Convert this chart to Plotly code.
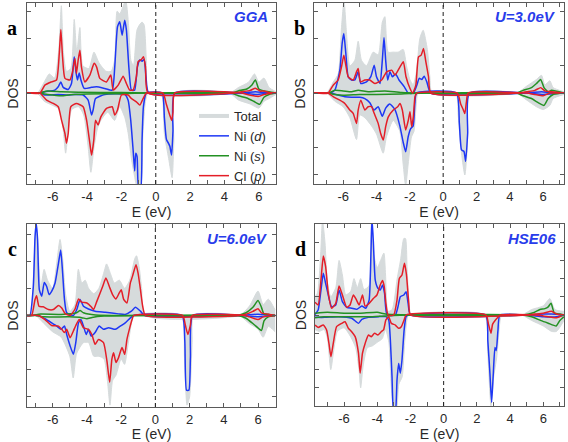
import plotly.graph_objects as go

# ---------------- data: (E, DOS) pairs ----------------
# Panel a (GGA)
A_TOTAL_UP = [(-7.5,0),(-6.9,0),(-6.5,0.4),(-6.2,0.7),(-5.9,0.55),(-5.65,1.6),(-5.5,3.2),(-5.38,1.5),(-5.2,0.8),(-4.95,0.9),(-4.75,2.7),(-4.6,1.5),(-4.42,2.4),(-4.25,1.0),(-3.9,0.9),(-3.6,1.5),(-3.3,1.1),(-2.9,0.8),(-2.6,0.8),(-2.4,1.2),(-2.25,3.0),(-2.1,2.9),(-1.95,3.1),(-1.75,3.4),(-1.6,2.6),(-1.45,1.2),(-1.3,1.0),(-1.1,2.3),(-0.95,2.5),(-0.8,2.6),(-0.68,2.5),(-0.55,1.2),(-0.4,0),(4.3,0),(4.8,0.2),(5.4,0.4),(5.75,0.7),(6.0,0.4),(6.3,0.55),(6.6,0.2),(7,0.05)]
A_TOTAL_DN = [(-7.5,0),(-6.9,0),(-6.5,-0.3),(-6.0,-0.45),(-5.6,-0.6),(-5.4,-1.3),(-5.25,-2.2),(-5.1,-1.4),(-4.9,-0.6),(-4.5,-0.5),(-4.2,-0.8),(-3.95,-1.9),(-3.78,-2.9),(-3.6,-2.0),(-3.4,-1.3),(-3.2,-1.0),(-2.8,-0.7),(-2.4,-1.0),(-2.1,-0.5),(-1.8,-0.9),(-1.6,-1.5),(-1.42,-2.4),(-1.25,-3.0),(-1.1,-3.4),(-0.9,-3.4),(-0.75,-1.5),(-0.6,-0.3),(-0.45,0),(0.3,0),(0.5,-1.5),(0.75,-2.4),(0.95,-3.1),(1.05,-1.8),(1.15,0),(4.3,0),(4.8,-0.25),(5.5,-0.4),(6.0,-0.55),(6.3,-0.3),(6.6,-0.2),(7,-0.05)]
A_D_UP = [(-7.5,0),(-6.75,0),(-6.46,0.05),(-5.88,0.11),(-5.68,0.23),(-5.53,0.41),(-5.39,0.21),(-5.1,0.13),(-4.91,0.35),(-4.75,1.33),(-4.65,0.78),(-4.56,0.48),(-4.46,0.74),(-4.36,0.48),(-4.17,0.17),(-3.74,0.21),(-3.45,0.23),(-2.97,0.17),(-2.54,0.11),(-2.39,0.96),(-2.23,2.43),(-2.1,2.61),(-1.96,2.12),(-1.81,2.67),(-1.71,2.3),(-1.57,0.96),(-1.42,0.11),(-1.23,0.11),(-1.07,0.96),(-0.93,1.21),(-0.8,1.17),(-0.68,1.23),(-0.57,0.6),(-0.41,0),(5.0,0),(5.8,0.05),(6.3,0.02),(7,0)]
A_D_DN = [(-7.5,0),(-6.75,0),(-6.46,-0.07),(-5.68,-0.05),(-5.1,-0.07),(-4.71,-0.05),(-4.23,-0.07),(-3.94,-0.26),(-3.74,-0.8),(-3.65,-0.62),(-3.51,-0.2),(-2.97,-0.05),(-1.81,-0.05),(-1.61,-0.26),(-1.46,-0.99),(-1.32,-2.09),(-1.23,-2.85),(-1.17,-2.2),(-1.09,-2.33),(-1.0,-3.5),(-0.88,-3.5),(-0.8,-1.72),(-0.72,-0.5),(-0.55,0),(0.37,0),(0.5,-0.9),(0.62,-1.7),(0.75,-1.85),(0.82,-1.95),(0.92,-2.27),(1.0,-1.4),(1.1,0),(5.0,0),(5.9,-0.05),(6.5,0),(7,0)]
A_S_UP = [(-7.5,0),(-6.8,0),(-6.3,0.08),(-5.5,0.05),(-4.5,0.03),(-2.0,0.02),(-0.5,0),(4.4,0),(4.8,0.08),(5.3,0.15),(5.6,0.3),(5.8,0.48),(6.0,0.15),(6.3,0.08),(6.6,0.05),(7,0)]
A_S_DN = [(-7.5,0),(-6.8,0),(-6.3,-0.05),(-5.5,-0.1),(-5.0,-0.06),(-4.0,-0.03),(-2.0,-0.02),(-0.5,0),(4.4,0),(4.8,-0.1),(5.3,-0.18),(5.7,-0.3),(6.05,-0.41),(6.3,-0.15),(6.6,-0.05),(7,0)]
A_P_UP = [(-7.5,0),(-6.75,0),(-6.46,0.29),(-6.07,0.41),(-5.78,0.48),(-5.62,1.45),(-5.53,2.33),(-5.43,1.33),(-5.29,0.54),(-5.0,0.48),(-4.85,0.78),(-4.71,1.27),(-4.62,0.72),(-4.52,1.21),(-4.42,1.57),(-4.33,0.96),(-4.13,0.41),(-3.84,0.66),(-3.59,1.09),(-3.45,0.96),(-3.26,0.54),(-2.87,0.41),(-2.62,0.66),(-2.48,0.11),(-2.19,0.29),(-1.9,0.62),(-1.71,0.35),(-1.52,0.11),(-1.32,0.11),(-1.13,0.6),(-1.03,1.15),(-0.84,1.23),(-0.72,1.33),(-0.6,0.96),(-0.45,0),(4.5,0),(5.0,0.05),(5.5,0.1),(5.8,0.18),(6.1,0.07),(6.3,0.08),(6.6,0.02),(7,0)]
A_P_DN = [(-7.5,0),(-6.75,0),(-6.36,-0.26),(-5.97,-0.38),(-5.68,-0.5),(-5.49,-0.99),(-5.29,-1.48),(-5.2,-1.84),(-5.1,-1.48),(-4.95,-0.5),(-4.62,-0.38),(-4.23,-0.5),(-4.03,-0.99),(-3.84,-1.84),(-3.74,-2.27),(-3.61,-1.72),(-3.51,-0.99),(-3.36,-1.17),(-3.2,-0.87),(-2.87,-0.56),(-2.54,-0.5),(-2.39,-0.8),(-2.23,-0.62),(-2.0,-0.07),(-1.61,-0.07),(-1.42,-0.2),(-1.13,-0.32),(-0.93,-0.44),(-0.74,-0.2),(-0.55,0),(0.42,0),(0.61,-0.4),(0.81,-0.8),(0.93,-1.0),(1.0,-0.7),(1.1,0),(5.0,0),(5.5,-0.08),(6.0,-0.12),(6.3,-0.05),(7,0)]

# Panel b (U = 3.0 eV)
B_TOTAL_UP = [(-7.75,0),(-7.0,0),(-6.6,0.4),(-6.3,0.7),(-6.1,2.4),(-5.95,3.4),(-5.8,2.2),(-5.6,1.0),(-5.3,1.2),(-5.1,1.9),(-4.9,1.2),(-4.6,1.0),(-4.2,1.5),(-3.9,1.4),(-3.65,2.6),(-3.5,2.8),(-3.3,1.5),(-3.0,1.5),(-2.7,1.5),(-2.4,1.6),(-2.2,1.0),(-2.0,0.5),(-1.8,0.3),(-1.6,0.8),(-1.4,2.0),(-1.2,2.3),(-0.95,1.6),(-0.8,0.6),(-0.65,0),(4.4,0),(5.0,0.25),(5.6,0.5),(5.9,0.65),(6.1,0.3),(6.4,0.45),(6.6,0.2),(7.25,0.05)]
B_TOTAL_DN = [(-7.75,0),(-7.0,0),(-6.5,-0.3),(-6.0,-0.5),(-5.6,-0.9),(-5.2,-1.7),(-5.0,-0.8),(-4.7,-0.9),(-4.3,-1.2),(-4.0,-1.5),(-3.6,-2.2),(-3.4,-1.6),(-3.0,-1.0),(-2.6,-1.4),(-2.4,-2.6),(-2.25,-3.4),(-2.1,-2.6),(-1.9,-1.6),(-1.75,-1.4),(-1.6,-0.3),(-1.5,0),(0.75,0),(0.9,-0.8),(1.1,-2.2),(1.3,-3.0),(1.45,-2.0),(1.6,0),(4.4,0),(5.0,-0.25),(5.6,-0.5),(6.0,-0.6),(6.4,-0.45),(6.6,-0.2),(7.25,-0.05)]
B_D_UP = [(-7.75,0),(-6.81,0),(-6.5,0.11),(-6.2,0.84),(-6.06,1.82),(-5.96,2.18),(-5.84,1.45),(-5.7,0.6),(-5.5,0.48),(-5.3,0.48),(-5.1,0.78),(-4.94,0.35),(-4.6,0.41),(-4.34,0.6),(-4.14,1.02),(-4.0,0.6),(-3.79,0.35),(-3.65,1.21),(-3.55,2.04),(-3.45,1.21),(-3.33,0.48),(-3.19,0.78),(-3.05,0.6),(-2.85,0.7),(-2.65,0.48),(-2.33,0.23),(-2.09,0),(-1.79,0),(-1.58,0.29),(-1.44,0.54),(-1.28,0.5),(-1.14,0.62),(-0.98,0.41),(-0.74,0),(5.0,0),(5.9,0.05),(6.4,0.02),(7.25,0)]
B_D_DN = [(-7.75,0),(-6.8,0),(-6.3,-0.07),(-5.9,-0.13),(-5.5,-0.15),(-5.0,-0.15),(-4.7,-0.2),(-4.4,-0.35),(-4.15,-0.62),(-3.9,-0.5),(-3.65,-0.85),(-3.45,-0.55),(-3.2,-0.4),(-2.9,-0.6),(-2.6,-1.2),(-2.4,-1.8),(-2.25,-2.15),(-2.1,-1.6),(-1.95,-1.3),(-1.8,-1.2),(-1.7,-0.4),(-1.6,0),(0.8,0),(0.97,-1.1),(1.1,-2.08),(1.25,-2.14),(1.35,-2.5),(1.47,-1.47),(1.57,0),(5.0,0),(6.0,-0.05),(7.25,0)]
B_S_UP = [(-7.75,0),(-6.9,0),(-6.5,0.1),(-6.0,0.08),(-5.5,0.05),(-5.1,0.1),(-4.5,0.05),(-3.5,0.08),(-2.5,0.02),(-1.0,0),(4.4,0),(4.8,0.1),(5.3,0.2),(5.6,0.35),(5.85,0.5),(6.05,0.2),(6.3,0.05),(6.5,0.1),(7.25,0)]
B_S_DN = [(-7.75,0),(-6.9,0),(-6.5,-0.05),(-6.0,-0.08),(-5.0,-0.05),(-4.0,-0.05),(-2.5,-0.03),(-1.0,0),(4.4,0),(4.8,-0.1),(5.3,-0.2),(5.7,-0.35),(6.05,-0.45),(6.3,-0.2),(6.6,-0.05),(7.25,0)]
B_P_UP = [(-7.75,0),(-6.91,0),(-6.6,0.29),(-6.3,0.48),(-6.1,0.96),(-5.96,1.39),(-5.84,1.02),(-5.7,0.6),(-5.4,0.48),(-5.2,0.78),(-5.1,0.9),(-4.96,0.41),(-4.7,0.48),(-4.4,0.48),(-4.1,0.35),(-3.69,0.48),(-3.39,0.78),(-3.09,0.84),(-2.89,0.66),(-2.59,0.96),(-2.39,1.15),(-2.23,0.6),(-1.99,0.17),(-1.83,0),(-1.64,0.29),(-1.48,1.33),(-1.32,1.39),(-1.18,1.63),(-1.04,1.15),(-0.88,0.6),(-0.74,0),(4.5,0),(5.0,0.05),(5.5,0.1),(5.85,0.2),(6.1,0.08),(6.5,0.05),(7.25,0)]
B_P_DN = [(-7.75,0),(-6.91,0),(-6.6,-0.13),(-6.2,-0.26),(-5.9,-0.38),(-5.6,-0.62),(-5.4,-0.74),(-5.2,-1.11),(-5.1,-0.62),(-4.94,-0.26),(-4.7,-0.62),(-4.5,-0.5),(-4.3,-0.5),(-4.14,-0.74),(-3.9,-1.11),(-3.75,-1.48),(-3.59,-1.72),(-3.45,-1.23),(-3.29,-0.87),(-2.99,-0.62),(-2.73,-0.5),(-2.59,-0.38),(-2.45,-0.62),(-2.25,-1.35),(-2.09,-0.99),(-1.99,-0.68),(-1.89,-1.23),(-1.79,-0.87),(-1.69,-0.13),(-1.58,0),(0.85,0),(1.05,-0.4),(1.2,-0.6),(1.3,-0.75),(1.4,-0.3),(1.5,0),(5.0,0),(5.5,-0.05),(6.0,-0.1),(6.4,0),(7.25,0)]

# Panel c (U = 6.0 eV)
C_TOTAL_UP = [(-7.5,0),(-7.3,0),(-7.1,1.8),(-6.97,3.4),(-6.85,2.4),(-6.7,1.0),(-6.5,1.7),(-6.3,1.3),(-6.0,1.0),(-5.75,2.0),(-5.57,2.8),(-5.4,2.0),(-5.25,0.8),(-5.0,0.15),(-4.7,0.4),(-4.5,1.7),(-4.3,1.2),(-4.1,1.3),(-3.9,1.0),(-3.6,0.8),(-3.3,1.0),(-3.0,1.6),(-2.85,1.9),(-2.6,1.5),(-2.4,1.2),(-2.1,1.3),(-1.8,1.0),(-1.5,1.3),(-1.2,2.1),(-1.1,2.2),(-0.95,1.8),(-0.8,1.0),(-0.6,0),(4.9,0),(5.5,0.35),(6.0,0.9),(6.3,0.4),(6.6,0.6),(7,0.2)]
C_TOTAL_DN = [(-7.5,0),(-7.0,0),(-6.5,-0.3),(-6.0,-0.6),(-5.5,-0.8),(-5.0,-1.5),(-4.8,-2.3),(-4.6,-1.4),(-4.2,-1.0),(-3.9,-1.0),(-3.6,-1.5),(-3.3,-1.5),(-3.0,-1.6),(-2.8,-2.4),(-2.65,-3.3),(-2.5,-2.4),(-2.3,-2.2),(-2.0,-1.6),(-1.8,-1.8),(-1.6,-1.1),(-1.4,-0.3),(-1.25,0),(1.5,0),(1.7,-1.5),(1.85,-3.3),(2.0,-3.0),(2.15,-1.0),(2.25,0),(4.9,0),(5.5,-0.3),(6.0,-0.5),(6.3,-0.8),(6.6,-0.4),(7,-0.6)]
C_D_UP = [(-7.5,0),(-7.33,0),(-7.13,1.07),(-7.03,2.9),(-6.96,3.4),(-6.88,2.78),(-6.78,0.95),(-6.64,0.71),(-6.49,1.22),(-6.35,1.07),(-6.21,0.77),(-6.06,0.89),(-5.86,1.2),(-5.66,1.93),(-5.53,2.41),(-5.43,1.68),(-5.31,0.59),(-5.18,0.1),(-4.79,0),(-4.59,0.22),(-4.4,0.59),(-4.2,0.34),(-3.91,0.24),(-3.52,0.16),(-2.93,0.12),(-2.15,0.06),(-1.76,0.04),(-1.4,0.16),(-1.17,0.3),(-0.87,0.16),(-0.62,0),(5.0,0),(6.0,0.05),(6.5,0.02),(7,0)]
C_D_DN = [(-7.5,0),(-6.84,0),(-6.45,-0.12),(-6.06,-0.27),(-5.76,-0.39),(-5.51,-0.51),(-5.31,-0.39),(-5.18,-0.7),(-4.98,-1.12),(-4.79,-1.43),(-4.65,-1.0),(-4.49,-0.27),(-4.35,-0.15),(-4.2,-0.39),(-4.04,-0.7),(-3.91,-0.51),(-3.75,-0.76),(-3.52,-0.63),(-3.28,-0.39),(-3.03,-0.51),(-2.73,-0.45),(-2.34,-0.51),(-2.05,-0.39),(-1.76,-0.27),(-1.46,-0.09),(-1.27,0),(1.56,0),(1.72,-0.92),(1.82,-2.75),(1.96,-2.75),(2.05,-1.53),(2.19,0),(5.0,0),(6.0,-0.05),(7,0)]
C_S_UP = [(-7.5,0),(-7.2,0),(-6.8,0.05),(-5.5,0.04),(-4.6,0.1),(-4.4,0.18),(-4.2,0.1),(-3.5,0.02),(-1.0,0),(4.8,0),(5.3,0.1),(5.7,0.3),(6.0,0.55),(6.2,0.3),(6.35,0.05),(6.6,0.05),(7,0)]
C_S_DN = [(-7.5,0),(-7.0,0),(-6.5,-0.05),(-5.0,-0.05),(-4.3,-0.08),(-4.0,-0.12),(-3.7,-0.07),(-3.0,-0.02),(-1.0,0),(4.8,0),(5.3,-0.1),(5.8,-0.35),(6.2,-0.55),(6.35,-0.2),(6.6,-0.05),(7,0)]
C_P_UP = [(-7.5,0),(-7.23,0),(-7.03,0.59),(-6.94,0.73),(-6.8,0.34),(-6.55,0.32),(-6.25,0.22),(-5.96,0.22),(-5.66,0.37),(-5.47,0.28),(-5.27,0.07),(-4.98,0),(-4.69,0.24),(-4.49,0.61),(-4.3,0.49),(-4.0,0.46),(-3.75,0.32),(-3.61,0.22),(-3.42,0.52),(-3.08,1.07),(-2.89,1.38),(-2.69,1.07),(-2.5,0.77),(-2.3,0.61),(-2.11,0.83),(-1.99,0.95),(-1.85,0.59),(-1.66,0.46),(-1.46,1.2),(-1.33,1.46),(-1.13,1.87),(-1.01,1.56),(-0.87,0.95),(-0.74,0.34),(-0.58,0),(4.9,0),(5.3,0.05),(5.7,0.15),(6.0,0.25),(6.2,0.1),(6.6,0.05),(7,0)]
C_P_DN = [(-7.5,0),(-6.84,0),(-6.45,-0.15),(-6.06,-0.37),(-5.66,-0.39),(-5.47,-0.51),(-5.31,-0.63),(-5.18,-0.51),(-4.98,-0.82),(-4.79,-0.57),(-4.65,-0.37),(-4.45,-0.15),(-4.2,-0.45),(-3.91,-0.51),(-3.71,-0.7),(-3.52,-1.06),(-3.32,-0.88),(-3.03,-1.0),(-2.83,-1.67),(-2.67,-2.46),(-2.54,-1.61),(-2.44,-1.37),(-2.3,-1.73),(-2.15,-1.55),(-1.95,-1.18),(-1.79,-1.43),(-1.66,-0.88),(-1.52,-0.51),(-1.36,-0.15),(-1.27,0),(1.6,0),(1.75,-0.35),(1.9,-0.7),(2.05,-0.35),(2.15,0),(5.2,0),(5.5,-0.05),(6.0,-0.15),(6.3,-0.05),(7,0)]

# Panel d (HSE06)
D_TOTAL_UP = [(-7.75,1.0),(-7.6,1.2),(-7.4,3.5),(-7.3,5.2),(-7.15,4.0),(-7.0,1.8),(-6.8,1.0),(-6.5,1.5),(-6.3,3.0),(-6.1,2.2),(-5.9,1.1),(-5.6,1.3),(-5.4,2.0),(-5.2,1.5),(-5.0,2.0),(-4.8,1.4),(-4.5,1.6),(-4.35,5.2),(-4.2,3.3),(-4.0,2.6),(-3.8,3.0),(-3.6,3.4),(-3.5,2.2),(-3.35,0.2),(-3.1,0.3),(-2.8,2.0),(-2.6,3.0),(-2.4,4.2),(-2.3,4.2),(-2.2,2.5),(-2.05,0.3),(-1.95,0),(4.7,0),(5.3,0.3),(6.0,0.5),(6.4,0.9),(6.7,0.3),(7.25,0.2)]
D_TOTAL_DN = [(-7.75,-0.8),(-7.5,-0.9),(-7.2,-0.8),(-7.0,-1.3),(-6.8,-3.0),(-6.6,-1.8),(-6.4,-0.9),(-6.0,-0.7),(-5.6,-1.2),(-5.3,-1.8),(-5.1,-3.0),(-5.0,-4.0),(-4.85,-2.8),(-4.6,-1.8),(-4.3,-1.7),(-4.0,-1.5),(-3.7,-1.3),(-3.5,-0.8),(-3.3,-1.5),(-3.15,-4.0),(-3.0,-5.2),(-2.85,-5.2),(-2.7,-3.8),(-2.5,-3.4),(-2.35,-1.5),(-2.2,-0.2),(-2.1,0),(2.45,0),(2.65,-2.0),(2.85,-5.0),(3.0,-3.5),(3.2,-2.3),(3.4,-0.3),(3.5,0),(4.7,0),(5.3,-0.3),(6.0,-0.6),(6.5,-0.9),(6.8,-0.9),(7.25,-0.3)]
D_D_UP = [(-7.75,0.02),(-7.56,0.27),(-7.39,1.37),(-7.25,2.29),(-7.11,1.74),(-6.95,1.1),(-6.75,0.46),(-6.5,0.55),(-6.3,1.37),(-6.1,0.73),(-5.84,0.42),(-5.54,0.37),(-5.23,0.31),(-4.93,0.49),(-4.69,0.37),(-4.49,0.82),(-4.38,3.39),(-4.32,5.3),(-4.24,4.12),(-4.12,1.92),(-3.96,1.47),(-3.82,1.37),(-3.68,1.65),(-3.56,1.19),(-3.41,0),(-2.91,0),(-2.75,0.46),(-2.61,1.0),(-2.4,1.1),(-2.26,1.28),(-2.14,0.64),(-2.0,0),(5.0,0),(6.0,0.05),(6.5,0.05),(7.25,0)]
D_D_DN = [(-7.75,-0.13),(-7.15,-0.13),(-6.34,-0.09),(-5.54,-0.18),(-5.13,-0.46),(-4.93,-0.24),(-4.53,-0.13),(-3.92,-0.09),(-3.48,-0.09),(-3.31,-0.27),(-3.21,-1.37),(-3.11,-3.39),(-3.01,-5.3),(-2.91,-5.3),(-2.81,-3.57),(-2.71,-2.66),(-2.61,-3.2),(-2.51,-2.47),(-2.38,-0.82),(-2.26,-0.09),(-2.1,0),(2.53,0),(2.66,-1.41),(2.79,-3.24),(2.89,-4.8),(2.99,-3.24),(3.09,-1.78),(3.17,-1.96),(3.27,-0.86),(3.39,0),(5.0,0),(6.0,-0.1),(6.8,-0.1),(7.25,0)]
D_S_UP = [(-7.75,0.1),(-7.0,0.15),(-6.0,0.1),(-5.0,0.1),(-4.0,0.15),(-3.5,0.05),(-2.0,0),(4.8,0),(5.45,0.14),(5.8,0.3),(6.1,0.35),(6.3,0.45),(6.47,0.65),(6.67,0.1),(7.0,0.05),(7.25,0)]
D_S_DN = [(-7.75,-0.15),(-7.2,-0.1),(-6.0,-0.1),(-4.5,-0.1),(-3.5,-0.05),(-2.0,0),(4.8,0),(5.3,-0.1),(5.87,-0.31),(6.3,-0.45),(6.78,-0.6),(7.0,-0.3),(7.25,-0.1)]
D_P_UP = [(-7.75,0.7),(-7.56,0.55),(-7.39,1.92),(-7.25,3.24),(-7.11,2.66),(-6.95,1.19),(-6.75,0.37),(-6.5,0.64),(-6.3,1.59),(-6.1,1.1),(-5.84,0.42),(-5.64,0.55),(-5.44,1.1),(-5.27,0.86),(-5.09,0.55),(-4.89,1.1),(-4.73,0.49),(-4.49,0.64),(-4.22,0.92),(-4.02,1.1),(-3.82,1.65),(-3.68,1.89),(-3.58,1.56),(-3.48,0.64),(-3.35,0),(-3.01,0),(-2.81,0.82),(-2.67,2.01),(-2.51,2.2),(-2.36,2.84),(-2.24,2.2),(-2.1,0.64),(-2.0,0),(5.0,0),(5.5,0.05),(6.0,0.1),(6.5,0.2),(6.8,0.05),(7.25,0)]
D_P_DN = [(-7.75,-0.55),(-7.56,-0.68),(-7.25,-0.55),(-7.05,-0.82),(-6.91,-1.56),(-6.79,-2.29),(-6.65,-1.56),(-6.45,-0.64),(-6.14,-0.46),(-5.94,-0.37),(-5.74,-0.73),(-5.54,-0.92),(-5.33,-1.19),(-5.13,-2.1),(-5.03,-3.2),(-4.89,-2.1),(-4.73,-1.56),(-4.53,-1.1),(-4.36,-1.19),(-4.16,-1.0),(-3.96,-1.1),(-3.76,-0.92),(-3.62,-0.82),(-3.48,-0.27),(-3.31,-0.09),(-3.15,-0.46),(-2.91,-0.55),(-2.71,-0.73),(-2.55,-0.64),(-2.38,-0.27),(-2.26,0),(2.55,0),(2.7,-0.5),(2.85,-1.0),(2.95,-0.5),(3.1,-0.3),(3.3,-0.1),(3.4,0),(5.5,0),(6.0,-0.05),(6.8,-0.15),(7.25,0)]

PANEL_LABELS = ["a", "b", "c", "d"]
METHOD_LABELS = ["GGA", "U=3.0eV", "U=6.0eV", "HSE06"]
X_RANGES = [(-7.5, 7.0), (-7.75, 7.25), (-7.5, 7.05), (-7.75, 7.25)]
Y_RANGES = [(-3.33, 3.3), (-3.33, 3.3), (-3.37, 3.37), (-5.0, 5.0)]
LEGEND_NAMES = ["Total", "Ni (<i>d</i>)", "Ni (<i>s</i>)", "Cl (<i>p</i>)"]
X_TICKS = [-7, -6, -5, -4, -3, -2, -1, 0, 1, 2, 3, 4, 5, 6, 7]

PANELS = [
    (A_TOTAL_UP, A_TOTAL_DN, A_D_UP, A_D_DN, A_S_UP, A_S_DN, A_P_UP, A_P_DN),
    (B_TOTAL_UP, B_TOTAL_DN, B_D_UP, B_D_DN, B_S_UP, B_S_DN, B_P_UP, B_P_DN),
    (C_TOTAL_UP, C_TOTAL_DN, C_D_UP, C_D_DN, C_S_UP, C_S_DN, C_P_UP, C_P_DN),
    (D_TOTAL_UP, D_TOTAL_DN, D_D_UP, D_D_DN, D_S_UP, D_S_DN, D_P_UP, D_P_DN),
]

# ---------------- styling ----------------
W, H = 568, 442
GRAY = "rgb(214,219,220)"
BLUE = "rgb(30,55,245)"
GREEN = "rgb(35,145,35)"
RED = "rgb(228,30,40)"
FRAME = "rgb(90,90,90)"
TXT = "rgb(40,40,40)"
FONT = "Liberation Sans, Arial, sans-serif"

# plot-area boxes in pixels: (left, right, top, bottom)
BOXES = [(27, 276, 3, 184), (314, 564, 3, 184), (27, 276, 224, 407), (315, 564, 224, 406)]


def xy(pairs):
    return [p[0] for p in pairs], [p[1] for p in pairs]


fig = go.Figure()

for i, curves in enumerate(PANELS):
    n = "" if i == 0 else str(i + 1)
    xa, ya = "x" + n, "y" + n
    tot_up, tot_dn, d_up, d_dn, s_up, s_dn, p_up, p_dn = curves
    for tot in (tot_up, tot_dn):
        x, y = xy(tot)
        fig.add_trace(go.Scatter(x=x, y=y, mode="lines", fill="tozeroy", fillcolor=GRAY,
                                 line=dict(color=GRAY, width=1, shape="spline", smoothing=0.6),
                                 showlegend=False, xaxis=xa, yaxis=ya, hoverinfo="skip"))
    for pair, col in (((d_up, d_dn), BLUE), ((s_up, s_dn), GREEN), ((p_up, p_dn), RED)):
        for c in pair:
            x, y = xy(c)
            fig.add_trace(go.Scatter(x=x, y=y, mode="lines",
                                     line=dict(color=col, width=1.5, shape="spline", smoothing=0.5),
                                     showlegend=False, xaxis=xa, yaxis=ya))

# legend-only entries
for name, col, wdt in zip(LEGEND_NAMES, [GRAY, BLUE, GREEN, RED], [4, 1.5, 1.5, 1.5]):
    fig.add_trace(go.Scatter(x=[None], y=[None], mode="lines", name=name,
                             line=dict(color=col, width=wdt), xaxis="x", yaxis="y"))

layout = dict(width=W, height=H, margin=dict(l=0, r=0, t=0, b=0, autoexpand=False),
              paper_bgcolor="white", plot_bgcolor="white",
              font=dict(family=FONT, size=13, color=TXT),
              showlegend=True,
              legend=dict(x=194 / W, y=1 - 101 / H, xanchor="left", yanchor="top",
                          bgcolor="rgba(0,0,0,0)", font=dict(size=13, color=TXT),
                          itemwidth=30, tracegroupgap=0))

shapes = []
annotations = []
for i, (l, r, t, b) in enumerate(BOXES):
    n = "" if i == 0 else str(i + 1)
    xdom = [l / W, r / W]
    ydom = [1 - b / H, 1 - t / H]
    ticktext = [str(v) if v % 2 == 0 else "" for v in X_TICKS]
    layout["xaxis" + n] = dict(domain=xdom, range=list(X_RANGES[i]), anchor="y" + n,
                               tickvals=X_TICKS, ticktext=ticktext, ticks="inside", ticklen=4,
                               tickcolor=FRAME, showline=True, linecolor=FRAME, linewidth=1,
                               mirror="ticks", showgrid=False, zeroline=False,
                               tickfont=dict(size=13, color=TXT),
                               title=dict(text="E (eV)", font=dict(size=14, color=TXT), standoff=0))
    ylo, yhi = Y_RANGES[i]
    layout["yaxis" + n] = dict(domain=ydom, range=[ylo, yhi], anchor="x" + n,
                               dtick=1, tick0=0, ticks="inside", ticklen=4, tickcolor=FRAME,
                               showticklabels=False, showline=True, linecolor=FRAME, linewidth=1,
                               mirror="ticks", showgrid=False, zeroline=False,
                               title=dict(text="DOS", font=dict(size=14, color=TXT), standoff=4))
    shapes.append(dict(type="line", xref="x" + n, yref="y" + n + " domain", x0=0, x1=0, y0=0, y1=1,
                       line=dict(color="rgb(30,30,30)", width=1, dash="4px,3px")))
    annotations.append(dict(text="<b>" + PANEL_LABELS[i] + "</b>", xref="paper", yref="paper",
                            x=(l - 15) / W, y=1 - (t + 25) / H, showarrow=False,
                            font=dict(family="Liberation Serif, Times New Roman, serif", size=20, color="black"),
                            xanchor="center", yanchor="middle"))
    annotations.append(dict(text="<b><i>" + METHOD_LABELS[i] + "</i></b>", xref="paper", yref="paper",
                            x=(r - 6) / W, y=1 - (t + 14) / H, showarrow=False,
                            font=dict(family=FONT, size=15, color="rgb(40,60,235)"),
                            xanchor="right", yanchor="middle"))

layout["shapes"] = shapes
layout["annotations"] = annotations
fig.update_layout(**layout)
fig.write_html("out.html", config={"displayModeBar": False},
               post_script="document.body.style.margin='0';document.body.style.overflow='hidden';")
